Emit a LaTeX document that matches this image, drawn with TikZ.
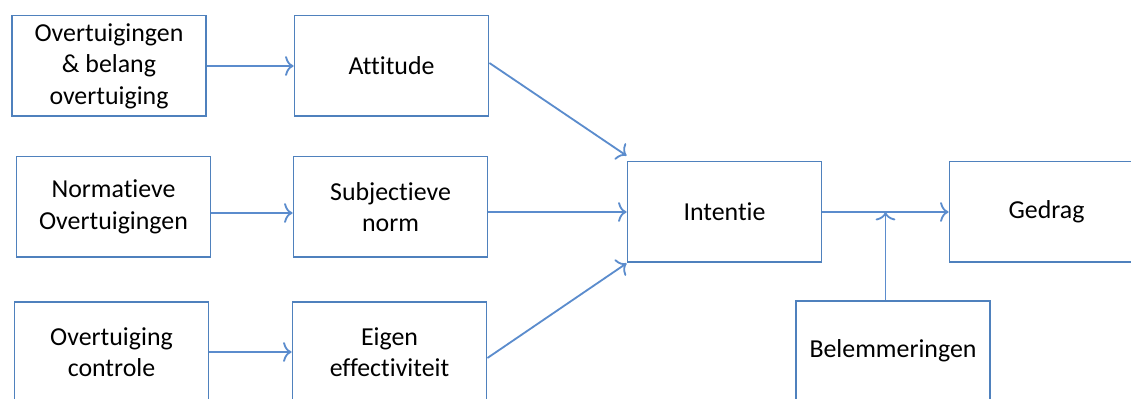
\documentclass[tikz,border=0pt]{standalone}
\usepackage{fontspec}
\setmainfont[Ligatures=NoCommon]{Carlito}
\usetikzlibrary{calc}
\usetikzlibrary{arrows.meta}
\definecolor{boxcol}{RGB}{79,129,189}
\definecolor{arrcol}{RGB}{91,140,205}
\tikzstyle{block}=[draw=boxcol,line width=1.3pt,minimum width=4.85cm,minimum height=2.52cm,align=center,inner sep=2pt,font=\fontsize{18.4}{22.4}\selectfont]
\tikzstyle{flow}=[arrcol,line width=1.3pt,-{To[length=6pt,width=14pt]}]
\def\W{1131}
\def\H{399}

\begin{document}
\begin{tikzpicture}[x=0.025cm,y=-0.025cm]
  
  \useasboundingbox (0,0) rectangle (\W,\H);
  \clip (0,0) rectangle (\W,\H);
  
  % LEFT COLUMN
  \node[block] (belief)  at (109,66)    {Overtuigingen\\\& belang\\overtuiging};
  \node[block] (normbel) at (113.5,207) {Normatieve\\Overtuigingen};
  \node[block] (ctrlbel) at (111.5,352) {Overtuiging\\controle};
  
  % MIDDLE COLUMN
  \node[block] (attitude) at (391.5,66)  {Attitude};
  \node[block] (subnorm)  at (390.5,207) {Subjectieve\\norm};
  \node[block] (selfeff)  at (389.5,352) {Eigen\\effectiviteit};
  
  % RIGHT PART
  \node[block] (intent)  at (724.5,212) {Intentie};
  \node[block] (behav)   at (1046.5,212) {Gedrag};
  \node[block] (barrier) at (893,351)   {Belemmeringen};
  \coordinate (J) at ($(intent.east)!0.5!(behav.west)$);
  
  % ARROWS
  \draw[flow] (belief)  -- (attitude);
  \draw[flow] ($(normbel.east)+(0,6)$) -- ($(subnorm.west)+(0,6)$);
  \draw[flow] (ctrlbel) -- (selfeff);
  \draw[flow] ($(attitude.east)+(0,-3)$) -- ($(intent.north west)+(0,-5)$);
  \draw[flow] (subnorm.east |- intent) -- (intent);
  \draw[flow] ($(selfeff.east)+(0,6)$) -- (intent.south west);
  \draw[flow] (intent) -- (behav);
  \draw[flow] (J |- barrier.north) -- (J);
  
\end{tikzpicture}
\end{document}
